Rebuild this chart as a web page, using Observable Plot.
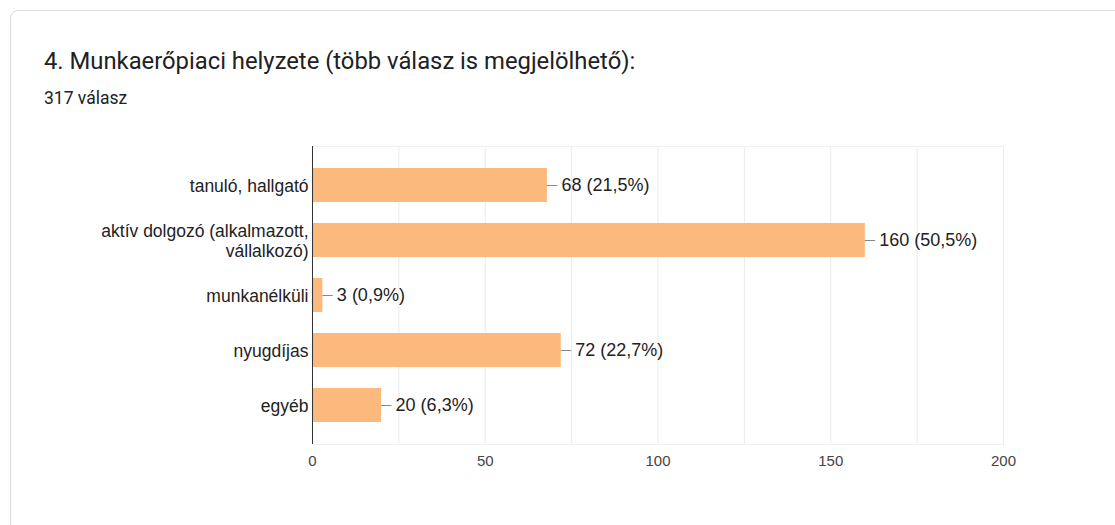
<!DOCTYPE html>
<html>
<head>
<meta charset="utf-8">
<script src="https://cdn.jsdelivr.net/npm/d3@7"></script>
<script src="https://cdn.jsdelivr.net/npm/@observablehq/plot@0.6"></script>
<style>
  html, body { margin: 0; padding: 0; background: #fff; width: 1115px; height: 525px; overflow: hidden; }
  #card { position: absolute; left: 10px; top: 10px; width: 1120px; height: 540px; border: 1px solid #dadce0; border-radius: 8px; box-sizing: border-box; }
  #title { position: absolute; left: 44px; top: 47px; font-family: Roboto, "Open Sans", sans-serif; font-size: 23.8px; line-height: 28px; color: #202124; white-space: nowrap; }
  #sub { position: absolute; left: 44px; top: 88px; font-family: Roboto, sans-serif; font-size: 17.5px; line-height: 20px; color: #202124; white-space: nowrap; }
  #chart { position: absolute; left: 0; top: 130px; }
</style>
</head>
<body>
<div id="card"></div>
<div id="title"></div>
<div id="sub"></div>
<div id="chart"></div>
<script>
const titleText = "4. Munkaerőpiaci helyzete (több válasz is megjelölhető):";
const subtitleText = "317 válasz";
const categories = ["tanuló, hallgató", "aktív dolgozó (alkalmazott,\nvállalkozó)", "munkanélküli", "nyugdíjas", "egyéb"];
const counts = [68, 160, 3, 72, 20];
const percents = ["21,5%", "50,5%", "0,9%", "22,7%", "6,3%"];
const xTicks = [0, 50, 100, 150, 200];
const gridTicks = [25, 50, 75, 100, 125, 150, 175, 200];

document.getElementById("title").textContent = titleText;
document.getElementById("sub").textContent = subtitleText;

const data = categories.map((c, i) => ({cat: c, value: counts[i], label: `${counts[i]} (${percents[i]})`}));

const chart = Plot.plot({
  width: 1115,
  height: 370,
  marginLeft: 312,
  marginRight: 112,
  marginTop: 16,
  marginBottom: 56,
  style: {fontFamily: "Arial, 'Liberation Sans', sans-serif", background: "transparent"},
  x: {domain: [0, 200], axis: null},
  y: {domain: categories, padding: 0.39, axis: null},
  marks: [
    Plot.ruleX(gridTicks, {stroke: "#ebebeb", strokeWidth: 1}),
    Plot.frame({stroke: "#f0f0f0", anchor: "top"}),
    Plot.frame({stroke: "#f0f0f0", anchor: "bottom"}),
    Plot.barX(data, {y: "cat", x: "value", fill: "#fcb97d"}),
    Plot.ruleY(data, {y: "cat", x1: "value", x2: d => d.value + 3, stroke: "#888", strokeWidth: 1}),
    Plot.text(data, {y: "cat", x: "value", text: "label", dx: 14, textAnchor: "start", fill: "#222", fontSize: 18}),
    Plot.text(data, {y: "cat", x: 0, text: "cat", dx: -4, textAnchor: "end", fill: "#222", fontSize: 17.5, lineHeight: 1.14}),
    Plot.ruleX([0], {stroke: "#333", strokeWidth: 1}),
    Plot.text(xTicks, {x: d => d, text: d => String(d), frameAnchor: "bottom", dy: 21, fontSize: 15, fill: "#444"})
  ]
});
document.getElementById("chart").appendChild(chart);
</script>
</body>
</html>
